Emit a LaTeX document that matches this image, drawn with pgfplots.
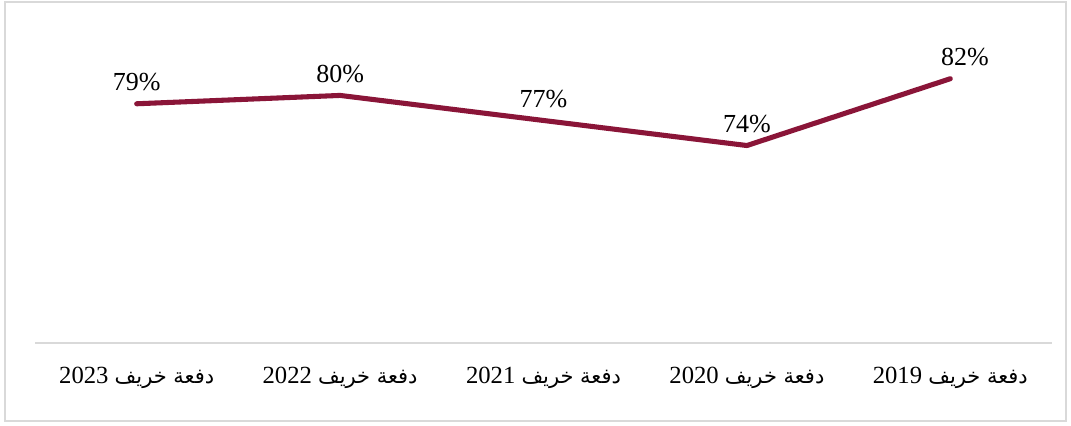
\documentclass[border=0pt]{standalone}
\usepackage{fontspec}
\setmainfont{Liberation Serif}
\newfontfamily\arabicfont[Script=Arabic,Scale=0.85]{DejaVu Sans}
\TeXXeTstate=1
\usepackage{pgfplots}
\pgfplotsset{compat=1.18}
\definecolor{maroon}{RGB}{138,21,56}
\definecolor{framegray}{RGB}{217,217,217}
\begin{document}
\begin{tikzpicture}
\useasboundingbox (-26.25pt,-61.5pt) rectangle (777pt,257.25pt);
\draw[framegray, line width=1.2pt] (-22.5pt,-58.5pt) rectangle (773.25pt,255.75pt);
\begin{axis}[
  scale only axis,
  width=762.75pt, height=250.5pt,
  xmin=-0.5, xmax=4.5, ymin=50.35, ymax=90.35,
  axis x line=bottom, axis y line=none,
  x axis line style={draw=framegray, line width=1.2pt, -},
  xtick={0,1,2,3,4},
  xticklabels={
    {2023 {\arabicfont\beginR دفعة خريف\endR}},
    {2022 {\arabicfont\beginR دفعة خريف\endR}},
    {2021 {\arabicfont\beginR دفعة خريف\endR}},
    {2020 {\arabicfont\beginR دفعة خريف\endR}},
    {2019 {\arabicfont\beginR دفعة خريف\endR}}},
  xtick style={draw=none},
  xticklabel style={anchor=base, yshift=-28.5pt, font=\fontsize{18.5}{20}\selectfont},
  ytick=\empty,
  clip=false,
  nodes near coords,
  point meta=explicit symbolic,
  every node near coord/.append style={anchor=base, yshift=10pt, font=\fontsize{19.5}{21}\selectfont, text=black,
     xshift={ifthenelse(\coordindex==4,11pt,0pt)}},
]
\addplot[maroon, line width=3.8pt, line cap=round, line join=round, mark=none] coordinates {
  (0,79) [79\%]
  (1,80) [80\%]
  (2,77) [77\%]
  (3,74) [74\%]
  (4,82) [82\%]
};
\end{axis}
\end{tikzpicture}
\end{document}
